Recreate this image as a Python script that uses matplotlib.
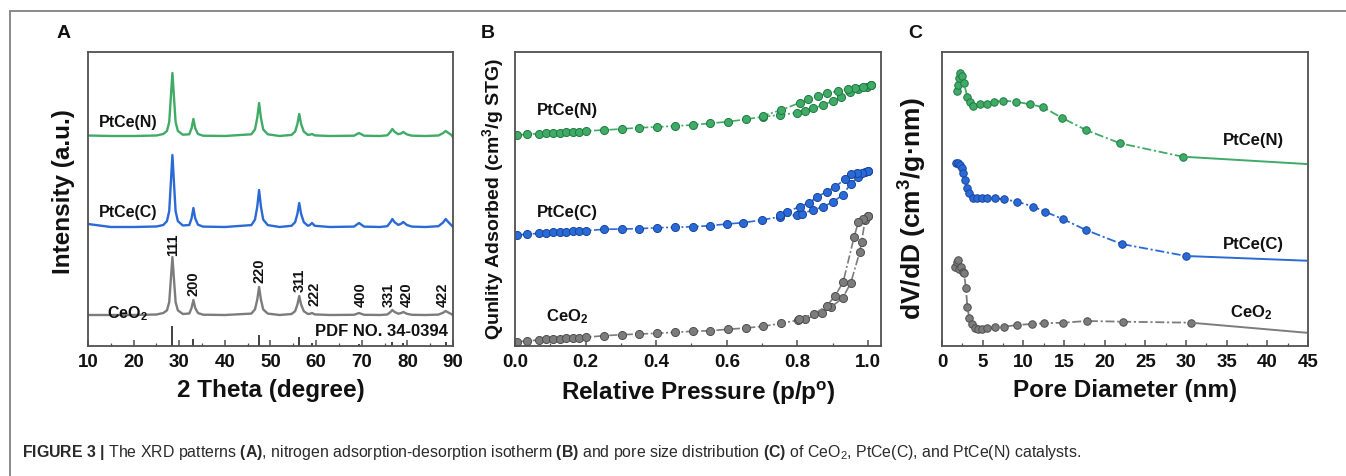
import matplotlib
matplotlib.use('Agg')
import matplotlib.pyplot as plt
from matplotlib.lines import Line2D
from matplotlib.ticker import MultipleLocator

plt.rcParams['font.family'] = ['Liberation Sans', 'DejaVu Sans']
plt.rcParams['mathtext.fontset'] = 'custom'
plt.rcParams['mathtext.rm'] = 'Liberation Sans'
plt.rcParams['mathtext.bf'] = 'Liberation Sans:bold'
plt.rcParams['mathtext.it'] = 'Liberation Sans:italic'

# ---------------- data: panel A (XRD) ----------------
two_theta = [10, 15, 20, 25, 26.5, 27.3, 27.8, 28.1, 28.5, 28.9, 29.2, 29.7, 30.8,
             32.2, 32.7, 33.1, 33.5, 34.1, 35.2, 40, 45.8, 46.6, 47.1, 47.5, 47.9,
             48.4, 49.4, 52, 54.6, 55.4, 55.9, 56.3, 56.7, 57.3, 58.2, 58.6, 59.1,
             59.7, 63, 68.3, 69.4, 70.5, 74, 75.6, 76.3, 76.7, 77.2, 78.0, 78.6,
             79.1, 79.9, 81.0, 84, 86.8, 87.8, 88.4, 89.0, 89.6, 90.0]
xrd_ceo2 = [31, 31, 31, 31.5, 33, 35.6, 43.8, 62.9, 89, 62.9, 43.8, 35.6, 32,
            32.5, 38, 46, 38, 33, 31.3, 31, 32.4, 36.6, 46.4, 59, 46.4,
            36.6, 32.4, 31, 32, 34.8, 41.5, 50, 41.5, 34.8, 32, 32.2, 33,
            31.6, 31, 31.2, 33, 31.2, 31, 31.5, 34, 36, 34, 32.3, 32.9,
            34, 32.2, 31.2, 31, 31.4, 33.2, 35, 33.4, 32, 31]
xrd_ptce_c = [122, 119, 119, 119.5, 121, 124.8, 134.8, 158.6, 191, 158.6, 134.8, 124.8, 120.5,
              121, 127.6, 138, 127.6, 121.3, 119.4, 119, 120.9, 126.4, 139.4, 156, 139.4,
              126.4, 120.9, 119, 120.2, 123.8, 132.2, 143, 132.2, 123.8, 120.2, 120.9, 123,
              120.2, 119, 119.4, 123, 119.4, 119, 119.8, 123.8, 127, 123.8, 121.1, 122.2,
              124, 121, 119.4, 119, 119.8, 123.4, 127, 123.8, 121, 119]
xrd_ptce_n = [210.5, 210, 210, 210.5, 212, 215, 223.9, 244.7, 273, 244.7, 223.9, 215, 211.3,
              211.7, 217.7, 227, 217.7, 212, 210.3, 210, 211.7, 216.6, 228.2, 243, 228.2,
              216.6, 211.7, 210, 211.1, 214.4, 222.1, 232, 222.1, 214.4, 211.1, 211.3, 212,
              210.6, 210, 210.3, 213, 210.3, 210, 210.7, 214.2, 217, 214.2, 211.8, 212.5,
              214, 211.6, 210.3, 210, 210.5, 212.8, 215, 213, 211.2, 209]
pdf_pos = [28.5, 33.1, 47.5, 56.3, 59.1, 69.4, 76.7, 79.1, 88.4]
pdf_int = [20, 7, 11, 9, 3, 2, 4, 3, 4]
hkl = ['111', '200', '220', '311', '222', '400', '331', '420', '422']
hkl_x = [28.6, 33.1, 47.5, 56.3, 59.6, 69.8, 76.0, 79.9, 87.8]
hkl_y = [90, 50, 63, 54, 40, 39, 39, 39, 39]

# ---------------- data: panel B (isotherms) ----------------
p_ads_ceo2 = [0.007, 0.033, 0.068, 0.088, 0.109, 0.127, 0.144, 0.163, 0.182, 0.201, 0.252,
              0.302, 0.352, 0.403, 0.453, 0.503, 0.552, 0.604, 0.654, 0.703, 0.755, 0.803,
              0.822, 0.869, 0.894, 0.928, 0.951, 0.977, 0.982, 0.992, 1.000]
q_ads_ceo2 = [4.3, 5, 6, 6.7, 7, 7.3, 7.7, 8, 8.3, 8.7, 10.3, 11.3, 12, 12.7, 13.7, 14.7,
              15.3, 16.7, 18, 19.7, 22.7, 26, 27, 32.7, 38.7, 47.7, 62.7, 94.3, 104.3, 126, 130]
p_des_ceo2 = [1.000, 0.987, 0.973, 0.961, 0.930, 0.907, 0.883, 0.847, 0.805]
q_des_ceo2 = [130, 126.7, 124.3, 109.3, 64.3, 50, 40, 32, 27]

p_ads_c = [0.007, 0.033, 0.068, 0.088, 0.109, 0.127, 0.144, 0.163, 0.182, 0.201, 0.252,
           0.302, 0.352, 0.403, 0.453, 0.503, 0.552, 0.600, 0.647, 0.699, 0.751, 0.798,
           0.812, 0.845, 0.873, 0.902, 0.928, 0.951, 0.973, 0.992, 1.000]
q_ads_c = [111, 111.7, 112.7, 113.3, 113.7, 114, 114.3, 114.7, 115, 115.3, 116.7, 117,
           117.3, 118.3, 118.7, 119.3, 120.3, 122, 123.3, 126, 129.3, 131, 132.5, 136,
           139.3, 144.3, 151, 162, 169.3, 174.3, 175.3]
p_des_c = [1.000, 0.982, 0.968, 0.951, 0.935, 0.907, 0.883, 0.857, 0.834, 0.807, 0.770, 0.751]
q_des_c = [175.3, 173.3, 172.7, 172, 166.7, 159.3, 154.3, 149.3, 143.3, 139.3, 134.3, 131]

p_ads_n = [0.007, 0.033, 0.068, 0.088, 0.109, 0.127, 0.144, 0.163, 0.182, 0.201, 0.252,
           0.302, 0.352, 0.403, 0.453, 0.503, 0.552, 0.604, 0.654, 0.703, 0.751, 0.798,
           0.822, 0.845, 0.873, 0.900, 0.925, 0.949, 0.973, 0.996, 1.010]
q_ads_n = [211, 211.7, 212.3, 212.7, 213, 213.3, 213.7, 214, 214.3, 215, 216, 217, 218.3,
           219, 220, 221, 222.7, 224.3, 226.7, 229.3, 231, 233.3, 234.7, 237.7, 241, 245,
           249.3, 254.3, 256.7, 259.3, 261]
p_des_n = [1.010, 0.987, 0.963, 0.944, 0.916, 0.883, 0.859, 0.831, 0.807, 0.755, 0.703]
q_des_n = [261, 259.3, 257.7, 256.7, 255, 252.7, 250, 246.7, 243.3, 236, 230.3]

# ---------------- data: panel C (pore size distribution) ----------------
pd_n = [1.80, 1.93, 2.09, 2.21, 2.42, 2.70, 3.11, 3.44, 3.85, 4.67, 5.49, 6.39, 7.54,
        9.1, 10.82, 12.46, 14.71, 17.7, 21.9, 29.6, 44.8]
dv_n = [255.3, 261, 267.7, 272.7, 270, 262.7, 249.3, 244.3, 240, 241.7, 241.7, 244.3,
        245.3, 244.3, 241.7, 238.7, 228.3, 216, 202.7, 189.3, 182]
pd_c = [1.72, 2.01, 2.21, 2.42, 2.62, 2.83, 3.11, 3.36, 3.77, 4.34, 4.88, 5.57, 6.52,
        7.62, 9.26, 11.23, 12.66, 14.84, 17.7, 22.09, 30.0, 44.8]
dv_c = [183.3, 182.7, 181, 177.7, 172.7, 166, 157.7, 152.7, 147.7, 147.7, 147.7, 147.7,
        147.7, 146.7, 144.3, 139.3, 134.3, 127, 116, 102, 90, 85.3]
pd_ceo2 = [1.6, 1.8, 2.01, 2.13, 2.3, 2.54, 2.7, 2.95, 3.11, 3.36, 3.65, 4.06, 4.47,
           4.88, 5.57, 6.52, 7.62, 9.26, 11.02, 12.54, 14.84, 17.79, 22.3, 30.6, 44.76]
dv_ceo2 = [78.7, 84.3, 86, 76.7, 79.3, 74.3, 72.7, 57.7, 39.3, 27.7, 22, 17.7, 16.7,
           16.7, 17.7, 18.7, 19.3, 21, 22, 22.7, 23.3, 25, 24.3, 23.3, 13.3]

series_names = ['CeO$_\\mathbf{2}$', 'PtCe(C)', 'PtCe(N)']

# ---------------- style ----------------
GREEN, GREEN_D = '#3fab66', '#1f7a42'
BLUE, BLUE_D = '#2a6ad6', '#17459e'
GRAY, GRAY_D = '#7c7c7c', '#4e4e4e'
TXT = '#111111'

W, H = 1346, 476
fig = plt.figure(figsize=(W / 100, H / 100), dpi=100)


def ax_at(l, r, t, b):
    return fig.add_axes([l / W, 1 - b / H, (r - l) / W, (b - t) / H])


def style(ax, major, minor):
    for s in ax.spines.values():
        s.set_color('#505050')
        s.set_linewidth(1.3)
    ax.set_yticks([])
    ax.xaxis.set_major_locator(MultipleLocator(major))
    ax.xaxis.set_minor_locator(MultipleLocator(minor))
    ax.tick_params(axis='x', which='major', direction='in', length=4.5, width=1.1,
                   labelsize=13.5, pad=6, colors='#505050', labelcolor=TXT)
    ax.tick_params(axis='x', which='minor', direction='in', length=2.5, width=0.9,
                   colors='#505050')
    ax.set_ylim(0, 294)


# figure frame
fig.add_artist(Line2D([10 / W, 1], [1 - 10.5 / H, 1 - 10.5 / H], color='#8a8a8a', lw=1.4))
fig.add_artist(Line2D([10 / W, 10 / W], [0, 1 - 10.5 / H], color='#8a8a8a', lw=1.4))

# ---------------- panel A ----------------
axA = ax_at(88, 453, 52, 346)
axA.plot(two_theta, xrd_ceo2, color=GRAY, lw=1.7)
axA.plot(two_theta, xrd_ptce_c, color=BLUE, lw=1.7)
axA.plot(two_theta, xrd_ptce_n, color=GREEN, lw=1.7)
axA.vlines(pdf_pos, 0, pdf_int, color='#333333', lw=1.3)
for lab, x, y in zip(hkl, hkl_x, hkl_y):
    axA.text(x, y, lab, rotation=90, ha='center', va='bottom', fontsize=10.5,
             fontweight='bold', color=TXT)
axA.text(88.9, 15, 'PDF NO. 34-0394', ha='right', va='center', fontsize=12,
         fontweight='bold', color=TXT)
axA.text(14.1, 32, series_names[0], ha='left', va='center', fontsize=11.5,
         fontweight='bold', color=TXT)
axA.text(12.4, 133, series_names[1], ha='left', va='center', fontsize=11.5,
         fontweight='bold', color=TXT)
axA.text(12.4, 224, series_names[2], ha='left', va='center', fontsize=11.5,
         fontweight='bold', color=TXT)
axA.set_xlim(10, 90)
style(axA, 10, 5)
axA.set_xlabel('2 Theta (degree)', fontsize=17.5, fontweight='bold', color=TXT, va='center')
axA.xaxis.set_label_coords(0.5, -0.15)
axA.set_ylabel('Intensity (a.u.)', fontsize=17.5, fontweight='bold', color=TXT, va='center')
axA.yaxis.set_label_coords(-0.068, 0.525)

# ---------------- panel B ----------------
axB = ax_at(515, 881, 52, 346)
dash = (5, 1.5, 1.2, 1.5)
for (pa, qa, pdz, qd, c, cd) in [
        (p_ads_ceo2, q_ads_ceo2, p_des_ceo2, q_des_ceo2, GRAY, GRAY_D),
        (p_ads_c, q_ads_c, p_des_c, q_des_c, BLUE, BLUE_D),
        (p_ads_n, q_ads_n, p_des_n, q_des_n, GREEN, GREEN_D)]:
    for xs, ys in [(pa, qa), (pdz, qd)]:
        axB.plot(xs, ys, color=c, lw=1.2, dashes=dash, marker='o', markersize=5.8,
                 markerfacecolor=c, markeredgecolor=cd, markeredgewidth=0.7)
axB.text(0.062, 236, series_names[2], ha='left', va='center', fontsize=12,
         fontweight='bold', color=TXT)
axB.text(0.062, 134, series_names[1], ha='left', va='center', fontsize=12,
         fontweight='bold', color=TXT)
axB.text(0.088, 29, series_names[0], ha='left', va='center', fontsize=12,
         fontweight='bold', color=TXT)
axB.set_xlim(0, 1.037)
style(axB, 0.2, 0.1)
axB.xaxis.set_major_formatter(plt.FuncFormatter(lambda v, p: f'{v:.1f}'))
axB.set_xlabel('Relative Pressure (p/p$^\\mathbf{o}$)', fontsize=17.5, fontweight='bold',
               color=TXT, va='center')
axB.xaxis.set_label_coords(0.5, -0.16)
axB.set_ylabel('Qunlity Adsorbed (cm$^\\mathbf{3}$/g STG)', fontsize=14, fontweight='bold',
               color=TXT, va='center')
axB.yaxis.set_label_coords(-0.06, 0.5)

# ---------------- panel C ----------------
axC = ax_at(942, 1308, 52, 346)
for xs, ys, c, cd in [(pd_ceo2, dv_ceo2, GRAY, GRAY_D), (pd_c, dv_c, BLUE, BLUE_D),
                      (pd_n, dv_n, GREEN, GREEN_D)]:
    axC.plot(xs[:-1], ys[:-1], color=c, lw=1.3, dashes=dash, marker='o', markersize=5.4,
             markerfacecolor=c, markeredgecolor=cd, markeredgewidth=0.7)
    axC.plot(xs[-2:], ys[-2:], color=c, lw=1.4)
axC.text(42.05, 206, series_names[2], ha='right', va='center', fontsize=12,
         fontweight='bold', color=TXT)
axC.text(42.05, 101, series_names[1], ha='right', va='center', fontsize=12,
         fontweight='bold', color=TXT)
axC.text(40.6, 33, series_names[0], ha='right', va='center', fontsize=12,
         fontweight='bold', color=TXT)
axC.set_xlim(0, 45)
style(axC, 5, 2.5)
axC.set_xlabel('Pore Diameter (nm)', fontsize=17.5, fontweight='bold', color=TXT, va='center')
axC.xaxis.set_label_coords(0.5, -0.15)
axC.set_ylabel('dV/dD (cm$^\\mathbf{3}$/g·nm)', fontsize=19, fontweight='bold', color=TXT,
               va='center')
axC.yaxis.set_label_coords(-0.079, 0.469)

for ax in (axA, axB, axC):
    for t in ax.get_xticklabels():
        t.set_fontweight('bold')

# panel letters
for letter, x in [('A', 64), ('B', 488), ('C', 915)]:
    fig.text(x / W, 1 - 34 / H, letter, ha='center', va='center', fontsize=14,
             fontweight='bold', color=TXT)

# caption
caption = ('$\\mathbf{FIGURE\\ 3\\ |}$ The XRD patterns $\\mathbf{(A)}$, nitrogen '
           'adsorption-desorption isotherm $\\mathbf{(B)}$ and pore size distribution '
           '$\\mathbf{(C)}$ of CeO$_2$, PtCe(C), and PtCe(N) catalysts.')
fig.text(22 / W, 1 - 452 / H, caption, ha='left', va='center', fontsize=11.4,
         color='#2a2a2a')

fig.savefig('out.png', dpi=100)
